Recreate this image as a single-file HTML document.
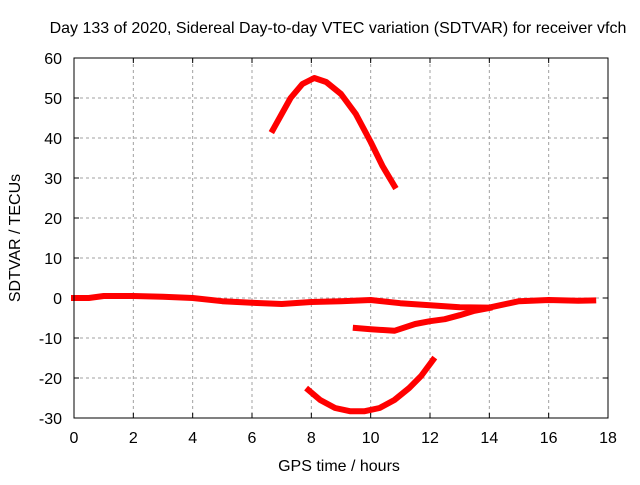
<!DOCTYPE html>
<html><head><meta charset="utf-8"><style>
body{margin:0;background:#fff}
svg text{font-family:"Liberation Sans",sans-serif;font-size:16px;fill:#000}
</style></head><body>
<svg id="chart" width="640" height="480" xmlns="http://www.w3.org/2000/svg">
<text x="338" y="33" text-anchor="middle">Day 133 of 2020, Sidereal Day-to-day VTEC variation (SDTVAR) for receiver vfch</text>
<text x="339" y="471" text-anchor="middle">GPS time / hours</text>
<text transform="translate(20,238) rotate(-90)" text-anchor="middle">SDTVAR / TECUs</text>
<g id="grid"></g><g id="ticks"></g><g id="series"></g>
<rect x="74" y="58" width="534" height="360" fill="none" stroke="#000" stroke-width="1"/>
</svg>
<script>
const xTicks=[0,2,4,6,8,10,12,14,16,18];
const yTicks=[-30,-20,-10,0,10,20,30,40,50,60];
const arcT=[6.7,7.0,7.3,7.7,8.1,8.5,9.0,9.5,10.0,10.4,10.8];
const arcV=[42,46,50,53.5,55,54,51,46,39,33,28];
const baseT=[0,0.5,1,1.5,2,3,4,5,6,7,8,9,10,11,12,13,14,15,16,17,17.5];
const baseV=[0,0,0.5,0.5,0.5,0.3,0,-0.8,-1.2,-1.5,-1,-0.8,-0.5,-1.3,-1.8,-2.3,-2.4,-0.8,-0.5,-0.7,-0.6];
const midT=[9.5,10,10.8,11.5,12,12.5,13,13.5,14];
const midV=[-7.5,-7.8,-8.2,-6.5,-5.8,-5.3,-4.3,-3.2,-2.5];
const lowT=[7.9,8.3,8.8,9.3,9.8,10.3,10.8,11.3,11.7,12.1];
const lowV=[-23,-25.5,-27.5,-28.3,-28.3,-27.5,-25.5,-22.5,-19.5,-15.5];
const X0=74,X1=608,Y0=418,Y1=58;
const sx=t=>X0+(t-0)/(18-0)*(X1-X0);
const sy=v=>Y0-(v+30)/(90)*(Y0-Y1);
const NS="http://www.w3.org/2000/svg";
const grid=document.getElementById('grid'),ticks=document.getElementById('ticks'),ser=document.getElementById('series');
function mk(tag,attrs,parent){const e=document.createElementNS(NS,tag);for(const k in attrs)e.setAttribute(k,attrs[k]);parent.appendChild(e);return e;}
xTicks.forEach(t=>{const x=sx(t);
 if(t>0&&t<18){const g=mk('line',{x1:x,x2:x,y1:Y1,y2:Y0,stroke:'#a0a0a0','stroke-dasharray':'3,3'},grid);
 
 }
 const l=mk('text',{x:x,y:Y0+25,'text-anchor':'middle'},ticks);l.textContent=t;
 
 
 mk('line',{x1:x,x2:x,y1:Y0,y2:Y0-5,stroke:'#000'},ticks);mk('line',{x1:x,x2:x,y1:Y1,y2:Y1+5,stroke:'#000'},ticks);});
yTicks.forEach(v=>{const y=sy(v);
 if(v>-30&&v<60){const g=mk('line',{x1:X0,x2:X1,y1:y,y2:y,stroke:'#a0a0a0','stroke-dasharray':'3,3'},grid);
 
 }
 const l=mk('text',{x:X0-12,y:y+6,'text-anchor':'end'},ticks);l.textContent=v;
 
 
 mk('line',{x1:X0,x2:X0+5,y1:y,y2:y,stroke:'#000'},ticks);mk('line',{x1:X1,x2:X1-5,y1:y,y2:y,stroke:'#000'},ticks);});
function drawSeries(T,V,name){
 const pts=T.map((t,i)=>sx(t).toFixed(1)+','+sy(V[i]).toFixed(1)).join(' ');
 const p=mk('polyline',{points:pts,fill:'none',stroke:'#f00','stroke-width':6,'stroke-linejoin':'round','stroke-linecap':'square'},ser);
 
 
}
drawSeries(arcT,arcV,'series-arc-high');
drawSeries(baseT,baseV,'series-baseline');
drawSeries(midT,midV,'series-mid');
drawSeries(lowT,lowV,'series-arc-low');
</script>
</body></html>
